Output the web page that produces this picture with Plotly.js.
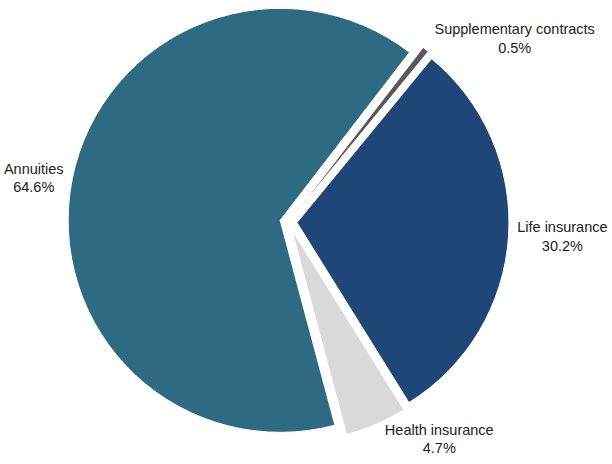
<!DOCTYPE html>
<html>
<head>
<meta charset="utf-8">
<script src="https://cdn.plot.ly/plotly-3.0.1.min.js"></script>
<style>html,body{margin:0;padding:0;background:#fff;}#chart{width:612px;height:464px;}</style>
</head>
<body>
<div id="chart"></div>
<script>
const labels = ["Supplementary contracts", "Life insurance", "Health insurance", "Annuities"];
const values = [0.5, 30.2, 4.7, 64.6];
const colors = ["#595959", "#1f4677", "#d9d9d9", "#2e6b82"];

const trace = {
  type: "pie",
  labels: labels,
  values: values,
  sort: false,
  direction: "clockwise",
  rotation: 37.6,
  pull: [0.04, 0.04, 0.04, 0.04],
  marker: { colors: colors, line: { color: "#ffffff", width: 1 } },
  texttemplate: "%{label}<br>%{percent:.1%}",
  textposition: "outside",
  textfont: { family: "Liberation Sans, Arial, Helvetica, sans-serif", size: 14.5, color: "#222222" },
  automargin: false,
  domain: { x: [0.1111, 0.8317], y: [0.0463, 0.9968] },
  hoverinfo: "skip"
};

const layout = {
  width: 612,
  height: 464,
  margin: { l: 0, r: 0, t: 0, b: 0 },
  showlegend: false,
  paper_bgcolor: "#ffffff",
  plot_bgcolor: "#ffffff"
};

Plotly.newPlot("chart", [trace], layout, { displayModeBar: false, staticPlot: true });
</script>
</body>
</html>
